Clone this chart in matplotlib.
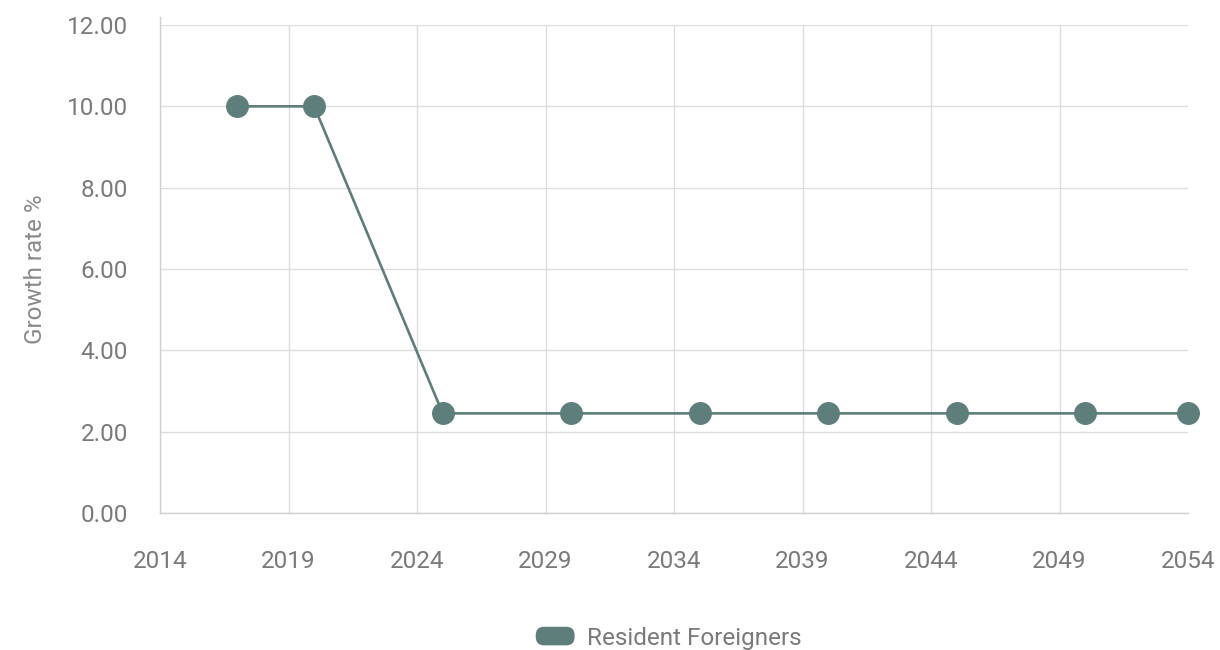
import matplotlib
matplotlib.use("Agg")
import matplotlib.pyplot as plt
from matplotlib.patches import FancyBboxPatch, Patch
from matplotlib.legend_handler import HandlerPatch

# data
years = [2017, 2020, 2025, 2030, 2035, 2040, 2045, 2050, 2054]
growth = [10.0, 10.0, 2.45, 2.45, 2.45, 2.45, 2.45, 2.45, 2.45]
series_name = "Resident Foreigners"
x_ticks = [2014, 2019, 2024, 2029, 2034, 2039, 2044, 2049, 2054]
y_ticks = [0, 2, 4, 6, 8, 10, 12]

line_col = "#5e7e7b"
grid_col = "#dddddd"
text_col = "#7a7a7a"

plt.rcParams["font.family"] = ["Roboto", "DejaVu Sans"]


class RoundHandler(HandlerPatch):
    # rounded swatch like the original legend
    def create_artists(self, legend, orig_handle, xdescent, ydescent,
                       width, height, fontsize, trans):
        r = height * 0.45
        p = FancyBboxPatch((-xdescent, -ydescent), width, height,
                           boxstyle="round,pad=0,rounding_size=%f" % r,
                           facecolor=orig_handle.get_facecolor(),
                           edgecolor="none", transform=trans)
        return [p]


fig = plt.figure(figsize=(12.2, 6.5), dpi=100)
ax = fig.add_axes([160 / 1220, 1 - 513 / 650, 1028 / 1220, 488 / 650])

ax.plot(years, growth, color=line_col, lw=1.9, marker="o", ms=15.5,
        markerfacecolor=line_col, markeredgecolor=line_col, clip_on=False,
        zorder=3)

ax.set_xlim(2014, 2054)
ax.set_ylim(0, 12)
ax.set_xticks(x_ticks)
ax.set_yticks(y_ticks)
ax.set_xticklabels([str(t) for t in x_ticks])
ax.set_yticklabels(["%.2f" % t for t in y_ticks])
ax.tick_params(axis="both", length=0, labelsize=17.5, colors=text_col)
ax.tick_params(axis="x", pad=27)
ax.tick_params(axis="y", pad=23)

ax.grid(True, color=grid_col, lw=1)
ax.set_axisbelow(True)
# no vertical gridline on the right edge
ax.get_xgridlines()[-1].set_visible(False)
for s in ["top", "right"]:
    ax.spines[s].set_visible(False)
for s in ["left", "bottom"]:
    ax.spines[s].set_color("#d0d0d0")
    ax.spines[s].set_linewidth(1)
ax.spines["left"].set_bounds(0, 12.2)

ax.set_ylabel("Growth rate %", fontsize=17.5, color="#8a8a8a", labelpad=14)

handle = Patch(facecolor=line_col, label=series_name)
fig.legend(handles=[handle], loc="center", bbox_to_anchor=(0.548, 1 - 638 / 650),
           frameon=False, fontsize=17.5, labelcolor=text_col,
           handlelength=1.6, handleheight=0.8, handletextpad=0.5,
           handler_map={Patch: RoundHandler()})

fig.savefig("out.png", dpi=100)
